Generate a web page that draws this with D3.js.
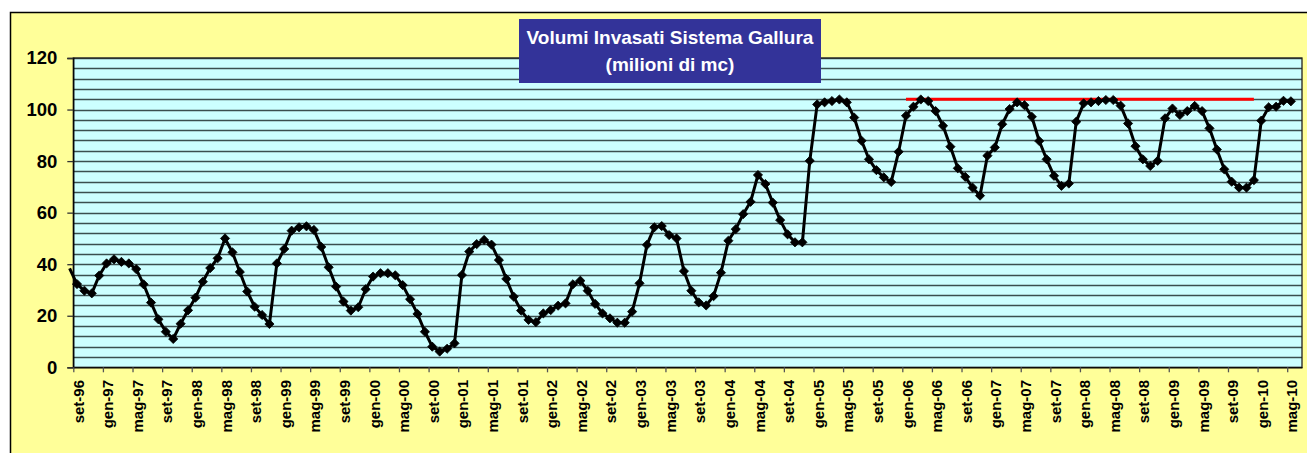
<!DOCTYPE html>
<html>
<head>
<meta charset="utf-8">
<script src="https://cdn.jsdelivr.net/npm/d3@7"></script>
<style>
  html, body { margin: 0; padding: 0; background: #ffffff; }
  svg { display: block; }
  text { font-family: Arial, "Liberation Sans", sans-serif; font-weight: bold; }
</style>
</head>
<body>
<svg id="chart" width="1307" height="453"></svg>
<script>
// ---- Data (milioni di mc), monthly from set-96 to mag-10 ----
const titleLines = ["Volumi Invasati Sistema Gallura", "(milioni di mc)"];
const priorValue = 38.4; // ago-96, partially visible at the left edge
const volumes = [
  // 1996 set-dic
  32.3, 29.7, 28.7, 35.6,
  // 1997
  40.3, 41.9, 40.9, 40.3, 38.1, 32.2, 25.1, 18.6, 13.8, 11.0, 16.9, 22.1,
  // 1998
  27.0, 33.2, 38.5, 42.3, 50.0, 44.6, 37.0, 29.4, 23.5, 20.3, 16.8, 40.3,
  // 1999
  45.9, 53.0, 54.3, 54.7, 53.3, 46.7, 38.8, 31.3, 25.5, 22.0, 23.3, 30.3,
  // 2000
  35.2, 36.5, 36.5, 35.7, 31.9, 26.4, 20.7, 13.8, 8.0, 6.1, 7.2, 9.3,
  // 2001
  35.8, 44.9, 47.8, 49.4, 47.6, 41.6, 34.3, 27.4, 22.0, 18.4, 17.5, 20.9,
  // 2002
  22.2, 23.9, 24.8, 32.2, 33.6, 29.7, 24.6, 20.9, 19.0, 17.3, 17.3, 21.6,
  // 2003
  32.6, 47.5, 54.3, 54.8, 51.3, 50.0, 37.3, 29.7, 25.2, 24.0, 27.6, 36.7,
  // 2004
  49.1, 53.6, 59.4, 64.2, 74.6, 71.1, 63.9, 57.1, 51.6, 48.5, 48.5, 80.1,
  // 2005
  102.0, 102.8, 103.3, 103.9, 102.8, 96.9, 87.9, 80.7, 76.5, 73.7, 71.9, 83.6,
  // 2006
  97.6, 101.1, 103.9, 103.3, 99.4, 93.7, 85.6, 77.2, 73.9, 69.7, 66.6, 82.1,
  // 2007
  85.3, 94.3, 100.2, 102.8, 101.7, 97.2, 87.8, 80.7, 74.3, 70.4, 71.3, 95.3,
  // 2008
  102.4, 102.8, 103.3, 103.7, 103.7, 101.5, 94.6, 85.8, 80.7, 78.1, 80.1, 96.6,
  // 2009
  100.4, 97.9, 99.4, 101.4, 99.4, 92.7, 84.5, 76.8, 72.0, 69.7, 69.7, 72.6,
  // 2010 gen-mag
  95.7, 100.9, 101.1, 103.4, 103.2
];
const tickLabels = [
  "set-96","gen-97","mag-97","set-97","gen-98","mag-98","set-98","gen-99","mag-99",
  "set-99","gen-00","mag-00","set-00","gen-01","mag-01","set-01","gen-02","mag-02",
  "set-02","gen-03","mag-03","set-03","gen-04","mag-04","set-04","gen-05","mag-05",
  "set-05","gen-06","mag-06","set-06","gen-07","mag-07","set-07","gen-08","mag-08",
  "set-08","gen-09","mag-09","set-09","gen-10","mag-10"
];
const yTicks = [0, 20, 40, 60, 80, 100, 120];
const gridStep = 4;
// Reference capacity line (red): gen-06 .. dic-09 at 104
const capacityValue = 104;
const capacityStartMonth = 112; // gen-06 (months after set-96)
const capacityEndMonth = 159;   // dic-09

// ---- Layout ----
const svg = d3.select("#chart");
const plot = { left: 73.3, top: 58, right: 1302, bottom: 367.3 };
const totalMonths = 166;

const x = d3.scaleLinear().domain([0, totalMonths]).range([plot.left, plot.right]);
const y = d3.scaleLinear().domain([0, 120]).range([plot.bottom, plot.top]);

// outer chart frame
svg.append("rect")
  .attr("x", 10.5).attr("y", 12.5).attr("width", 1320).attr("height", 460)
  .attr("fill", "#FFFF99").attr("stroke", "#000").attr("stroke-width", 1.5);

// plot area
svg.append("rect")
  .attr("x", plot.left).attr("y", plot.top)
  .attr("width", plot.right - plot.left).attr("height", plot.bottom - plot.top)
  .attr("fill", "#CCFFFF");

// gridlines
svg.append("g").selectAll("line")
  .data(d3.range(gridStep, 120 + 0.001, gridStep))
  .join("line")
  .attr("x1", plot.left).attr("x2", plot.right)
  .attr("y1", d => Math.round(y(d)) + 0.5).attr("y2", d => Math.round(y(d)) + 0.5)
  .attr("stroke", "#3a4f4f").attr("stroke-width", 1.4);

// plot border
svg.append("rect")
  .attr("x", plot.left).attr("y", plot.top)
  .attr("width", plot.right - plot.left).attr("height", plot.bottom - plot.top)
  .attr("fill", "none").attr("stroke", "#222").attr("stroke-width", 1.3);

// Y axis
const yAxis = svg.append("g")
  .attr("transform", `translate(${plot.left},0)`)
  .call(d3.axisLeft(y).tickValues(yTicks).tickSize(6).tickPadding(10));
yAxis.select(".domain").attr("stroke", "#000").attr("stroke-width", 1.3);
yAxis.selectAll(".tick line").attr("stroke", "#333").attr("stroke-width", 1.3);
yAxis.selectAll(".tick text")
  .attr("fill", "#000").style("font-size", "18.5px").style("font-weight", "bold")
  .attr("font-family", "Arial, 'Liberation Sans', sans-serif");

// X axis
const xAxis = svg.append("g")
  .attr("transform", `translate(0,${plot.bottom})`)
  .call(d3.axisBottom(x)
    .tickValues(tickLabels.map((_, k) => k * 4))
    .tickFormat((d, k) => tickLabels[k])
    .tickSize(5).tickSizeOuter(0));
xAxis.select(".domain").attr("stroke", "#000").attr("stroke-width", 1.3);
xAxis.selectAll(".tick line").attr("stroke", "#555").attr("stroke-width", 1.3);
xAxis.selectAll(".tick text")
  .attr("transform", "rotate(-90)")
  .attr("x", -12.7).attr("y", 4.5).attr("dy", "0.35em")
  .attr("text-anchor", "end")
  .attr("fill", "#000").style("font-size", "15px").style("font-weight", "bold")
  .attr("font-family", "Arial, 'Liberation Sans', sans-serif");

// red capacity line
svg.append("line")
  .attr("x1", x(capacityStartMonth + 0.5)).attr("x2", x(capacityEndMonth + 0.5))
  .attr("y1", y(capacityValue)).attr("y2", y(capacityValue))
  .attr("stroke", "#FF0000").attr("stroke-width", 3);

// series line
const series = [{ m: -1, v: priorValue }].concat(volumes.map((v, i) => ({ m: i, v })));
const line = d3.line().x(d => x(d.m + 0.5)).y(d => y(d.v));
svg.append("path")
  .datum(series)
  .attr("d", line)
  .attr("fill", "none").attr("stroke", "#000").attr("stroke-width", 3)
  .attr("stroke-linejoin", "round");

// diamond markers
const r = 4.6;
svg.append("g").selectAll("path")
  .data(series.filter(d => d.m >= 0))
  .join("path")
  .attr("transform", d => `translate(${x(d.m + 0.5)},${y(d.v)})`)
  .attr("d", `M0,${-r}L${r},0L0,${r}L${-r},0Z`)
  .attr("fill", "#000").attr("stroke", "#000").attr("stroke-width", 0.8);

// title box
const tb = { x: 519, y: 19, w: 302, h: 64 };
svg.append("rect")
  .attr("x", tb.x).attr("y", tb.y).attr("width", tb.w).attr("height", tb.h)
  .attr("fill", "#333399");
svg.append("g").selectAll("text")
  .data(titleLines)
  .join("text")
  .attr("x", tb.x + tb.w / 2)
  .attr("y", (d, i) => 44 + i * 27)
  .attr("text-anchor", "middle")
  .attr("fill", "#fff")
  .style("font-size", "19px")
  .text(d => d);
</script>
</body>
</html>
